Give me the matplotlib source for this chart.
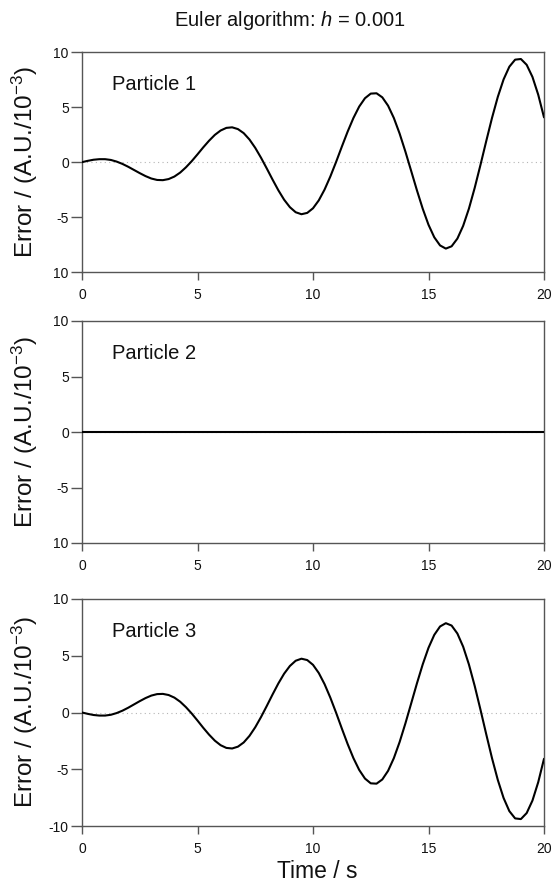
import matplotlib
matplotlib.use("Agg")
import matplotlib.pyplot as plt

plt.rcParams['font.family'] = ['Liberation Sans', 'DejaVu Sans']
plt.rcParams['mathtext.fontset'] = 'custom'
plt.rcParams['mathtext.rm'] = 'Liberation Sans'
plt.rcParams['mathtext.it'] = 'Liberation Sans:italic'
plt.rcParams['mathtext.default'] = 'regular'

# ---- data, error in units of 1e-3 ----
time_s = [0.0, 0.25, 0.5, 0.75, 1.0, 1.25, 1.5, 1.75, 2.0, 2.25, 2.5, 2.75,
          3.0, 3.25, 3.5, 3.75, 4.0, 4.25, 4.5, 4.75, 5.0, 5.25, 5.5, 5.75,
          6.0, 6.25, 6.5, 6.75, 7.0, 7.25, 7.5, 7.75, 8.0, 8.25, 8.5, 8.75,
          9.0, 9.25, 9.5, 9.75, 10.0, 10.25, 10.5, 10.75, 11.0, 11.25, 11.5, 11.75,
          12.0, 12.25, 12.5, 12.75, 13.0, 13.25, 13.5, 13.75, 14.0, 14.25, 14.5, 14.75,
          15.0, 15.25, 15.5, 15.75, 16.0, 16.25, 16.5, 16.75, 17.0, 17.25, 17.5, 17.75,
          18.0, 18.25, 18.5, 18.75, 19.0, 19.25, 19.5, 19.75, 20.0]

particle1 = [0.00, 0.12, 0.22, 0.27, 0.27, 0.20, 0.05, -0.16, -0.42, -0.71, -1.00, -1.27,
             -1.49, -1.62, -1.64, -1.54, -1.31, -0.95, -0.47, 0.09, 0.71, 1.35, 1.95, 2.48,
             2.88, 3.12, 3.17, 3.01, 2.64, 2.06, 1.30, 0.40, -0.58, -1.59, -2.56, -3.42,
             -4.10, -4.56, -4.74, -4.62, -4.20, -3.48, -2.50, -1.31, 0.02, 1.42, 2.78, 4.02,
             5.06, 5.82, 6.24, 6.27, 5.90, 5.14, 4.02, 2.60, 0.96, -0.80, -2.57, -4.24,
             -5.70, -6.84, -7.58, -7.87, -7.66, -6.96, -5.80, -4.23, -2.34, -0.25, 1.92, 4.03,
             5.94, 7.53, 8.69, 9.33, 9.39, 8.86, 7.76, 6.14, 4.08]

particle2 = [0.0] * 81

particle3 = [0.00, -0.12, -0.22, -0.27, -0.27, -0.20, -0.05, 0.16, 0.42, 0.71, 1.00, 1.27,
             1.49, 1.62, 1.64, 1.54, 1.31, 0.95, 0.47, -0.09, -0.71, -1.35, -1.95, -2.48,
             -2.88, -3.12, -3.17, -3.01, -2.64, -2.06, -1.30, -0.40, 0.58, 1.59, 2.56, 3.42,
             4.10, 4.56, 4.74, 4.62, 4.20, 3.48, 2.50, 1.31, -0.02, -1.42, -2.78, -4.02,
             -5.06, -5.82, -6.24, -6.27, -5.90, -5.14, -4.02, -2.60, -0.96, 0.80, 2.57, 4.24,
             5.70, 6.84, 7.58, 7.87, 7.66, 6.96, 5.80, 4.23, 2.34, 0.25, -1.92, -4.03,
             -5.94, -7.53, -8.69, -9.33, -9.39, -8.86, -7.76, -6.14, -4.08]

series = [particle1, particle2, particle3]
names = ["Particle 1", "Particle 2", "Particle 3"]

x_ticks = [0, 5, 10, 15, 20]
y_ticks = [10, 5, 0, -5, -10]
y_ticklabels = [["10", "5", "0", "-5", "10"],
                ["10", "5", "0", "-5", "10"],
                ["10", "5", "0", "-5", "-10"]]

# ---- layout (pixel boxes: top, bottom) ----
W, H = 553, 884
left_px, right_px = 82, 544
boxes = [(52.3, 272), (321, 543), (599, 826)]

fig = plt.figure(figsize=(W / 100, H / 100), dpi=100)
spine_col = '#555555'

for i, (top, bot) in enumerate(boxes):
    ax = fig.add_axes([left_px / W, 1 - bot / H, (right_px - left_px) / W, (bot - top) / H])
    ax.axhline(0, color='#b5b5b5', lw=0.8, ls=(0, (1, 3)), zorder=1)
    ax.plot(time_s, series[i], color='black', lw=1.5, zorder=3,
            solid_joinstyle='round', solid_capstyle='round')
    ax.set_xlim(0, 20)
    ax.set_ylim(-10, 10)
    ax.set_xticks(x_ticks)
    ax.set_xticklabels([str(v) for v in x_ticks])
    ax.set_yticks(y_ticks)
    ax.set_yticklabels(y_ticklabels[i])
    for s in ax.spines.values():
        s.set_color(spine_col)
        s.set_linewidth(1.0)
    ax.tick_params(axis='x', direction='out', length=5.5, width=1.0, color=spine_col,
                   pad=6, labelsize=10, labelcolor='#111111')
    ax.tick_params(axis='y', direction='out', length=8, width=1.0, color=spine_col,
                   pad=1.5, labelsize=10, labelcolor='#111111')
    ax.text((112 - left_px) / (right_px - left_px), 0.855, names[i], transform=ax.transAxes,
            fontsize=14.5, ha='left', va='center', color='#111111')
    fig.text(25 / W, 1 - (top + bot) / 2 / H, "Error / (A.U./10$^{-3}$)",
             rotation=90, ha='center', va='center', fontsize=17.5, color='#111111')

fig.text(290 / W, 1 - 20 / H, r"Euler algorithm: $\mathit{h}$ = 0.001", ha='center', va='center',
         fontsize=14.5, color='#111111')
fig.text(317 / W, 1 - 871 / H, "Time / s", ha='center', va='center', fontsize=16.5,
         color='#111111')

fig.savefig("out.png", dpi=100)
